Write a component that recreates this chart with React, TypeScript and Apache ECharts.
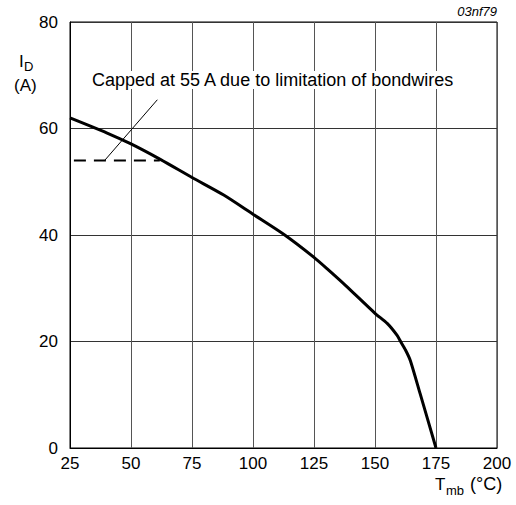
import React, { useEffect, useRef } from "react";
import * as echarts from "echarts";

const tmb = [25, 40, 50, 62, 75, 88, 100, 113, 125, 131, 138, 150, 155, 159, 160.5, 162.5, 164.5, 168.5, 175];
const idA = [62.0, 59.2, 57.1, 54.2, 50.8, 47.5, 43.9, 40.0, 35.8, 33.4, 30.5, 25.3, 23.4, 21.2, 20.0, 18.4, 16.4, 10.2, 0];
const capT = [26.6, 61.8];
const capI = [54, 54];
const leaderT = [39.2, 60.8];
const leaderI = [54, 65.4];
const xTicks = { min: 25, max: 200, interval: 25 };
const yTicks = { min: 0, max: 80, interval: 20 };
const annotation = "Capped at 55 A due to limitation of bondwires";
const FONT = "Arial, 'Liberation Sans', sans-serif";

export default function App() {
  const ref = useRef<HTMLDivElement>(null);
  useEffect(() => {
    document.body.style.margin = "0";
    const chart = echarts.init(ref.current!, null, { renderer: "svg" });
    const txt = (text: string, x: number, y: number, size: number, extra: any = {}) => ({
      type: "text",
      x,
      y,
      style: { text, fontSize: size, fontFamily: FONT, fill: "#000", verticalAlign: "middle", ...extra },
      z: 10,
    });
    chart.setOption({
      animation: false,
      backgroundColor: "#fff",
      grid: { left: 70, right: 19, top: 22, bottom: 57, show: true, borderColor: "#000", borderWidth: 1 },
      xAxis: {
        type: "value",
        ...xTicks,
        axisLine: { show: true, lineStyle: { color: "#000", width: 1 } },
        axisTick: { show: false },
        axisLabel: { color: "#000", fontSize: 17, fontFamily: FONT, margin: 7 },
        splitLine: { show: true, lineStyle: { color: "#555", width: 1 } },
      },
      yAxis: {
        type: "value",
        ...yTicks,
        axisLine: { show: true, lineStyle: { color: "#000", width: 1 } },
        axisTick: { show: false },
        axisLabel: { color: "#000", fontSize: 17, fontFamily: FONT, margin: 12 },
        splitLine: { show: true, lineStyle: { color: "#333", width: 1 } },
      },
      series: [
        {
          type: "line",
          data: tmb.map((t, i) => [t, idA[i]]),
          showSymbol: false,
          smooth: 0.25,
          lineStyle: { color: "#000", width: 3 },
          z: 5,
        },
        {
          type: "line",
          data: capT.map((t, i) => [t, capI[i]]),
          showSymbol: false,
          lineStyle: { color: "#000", width: 2, type: [12, 8] },
          z: 4,
        },
        {
          type: "line",
          data: leaderT.map((t, i) => [t, leaderI[i]]),
          showSymbol: false,
          lineStyle: { color: "#000", width: 1 },
          z: 4,
        },
      ],
      graphic: [
        txt("03nf79", 497, 11, 13, { fontStyle: "italic", align: "right" }),
        txt(annotation, 92, 80, 18, { backgroundColor: "#fff" }),
        txt("I", 19, 61, 17),
        txt("D", 24, 66, 13),
        txt("(A)", 14, 85, 17),
        txt("T", 435, 484, 17),
        txt("mb", 446, 490, 13),
        txt("(°C)", 470, 484, 18),
      ],
    });
    return () => chart.dispose();
  }, []);
  return <div ref={ref} style={{ width: 516, height: 505 }} />;
}
